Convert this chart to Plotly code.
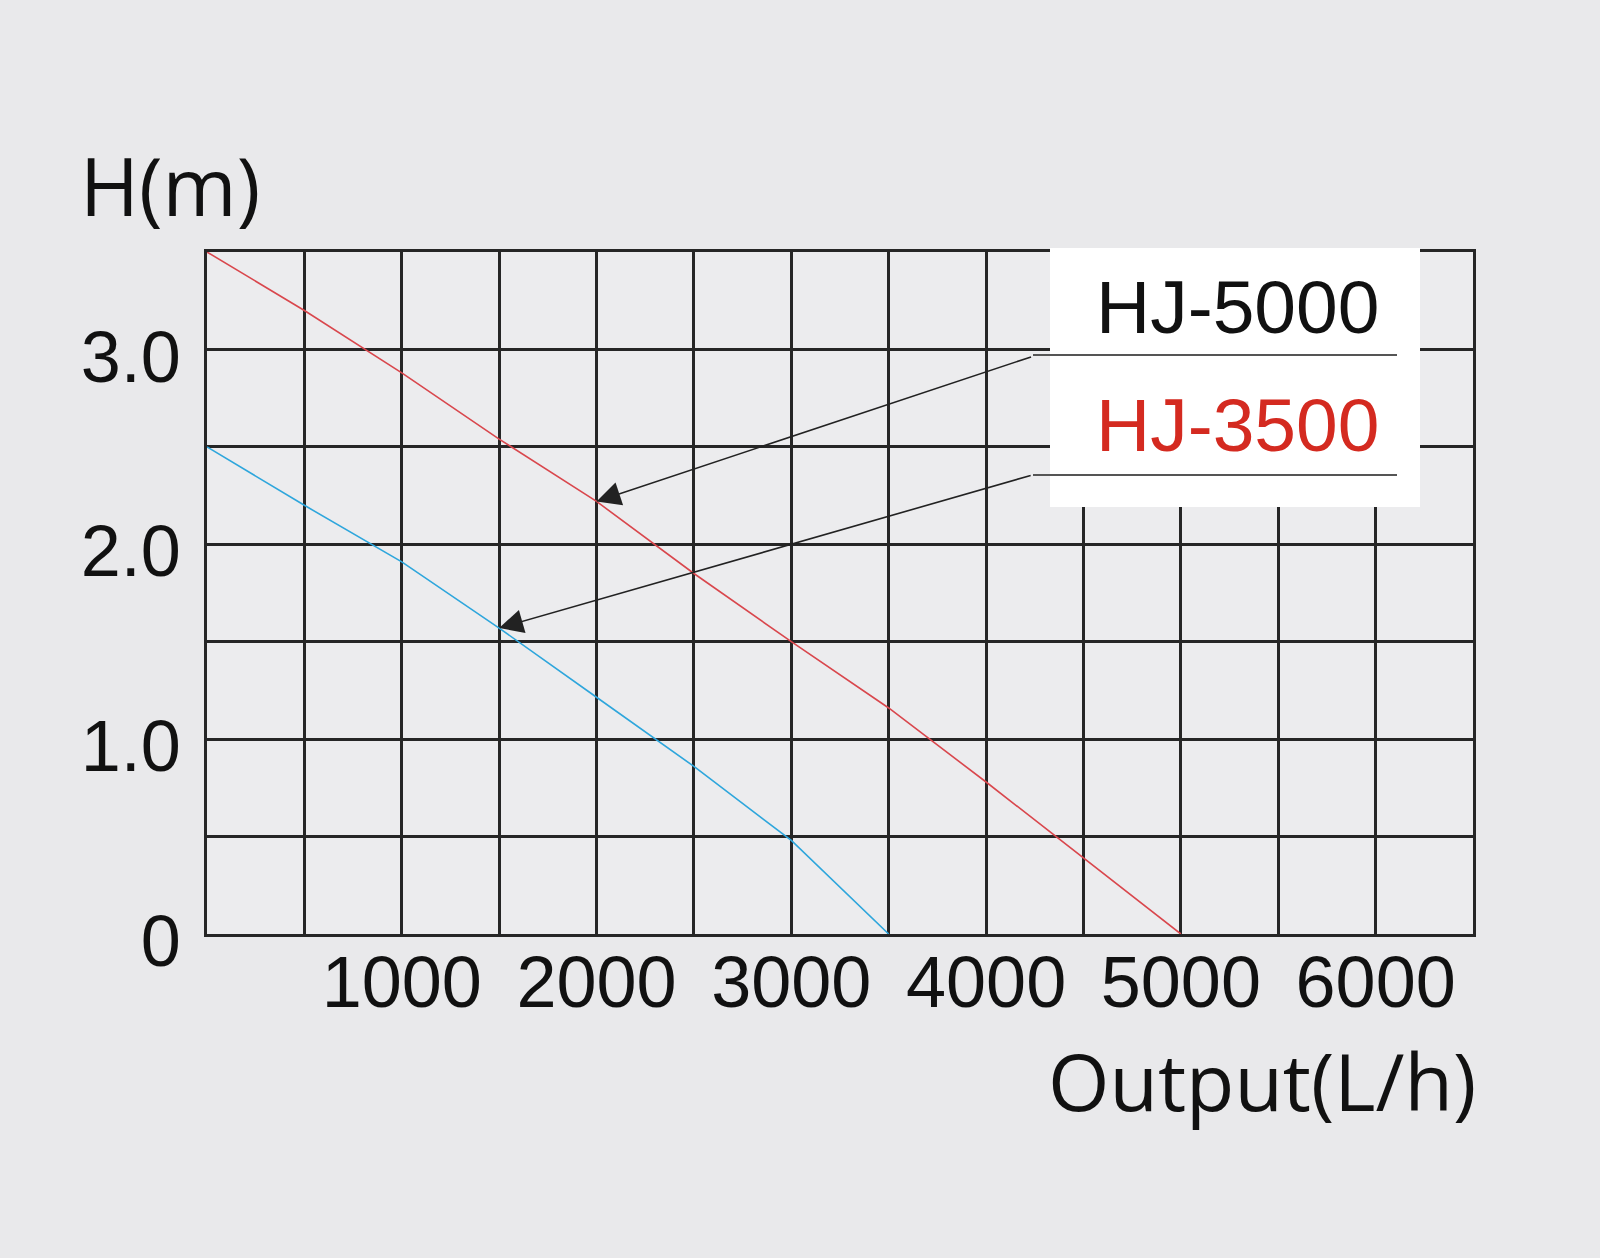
import plotly.graph_objects as go

# ---- data ----
flow_hj5000 = [0, 500, 1000, 1500, 2000, 2500, 3000, 3500, 4000, 4500, 5000]
head_hj5000 = [3.5, 3.2, 2.88, 2.54, 2.22, 1.85, 1.5, 1.16, 0.78, 0.39, 0.0]
flow_hj3500 = [0, 500, 1000, 1500, 2000, 2500, 3000, 3500]
head_hj3500 = [2.5, 2.2, 1.91, 1.57, 1.215, 0.86, 0.48, 0.0]

x_grid = [0, 500, 1000, 1500, 2000, 2500, 3000, 3500, 4000, 4500, 5000, 5500, 6000, 6500]
x_labels = ["", "", "1000", "", "2000", "", "3000", "", "4000", "", "5000", "", "6000", ""]
y_grid = [0, 0.5, 1.0, 1.5, 2.0, 2.5, 3.0, 3.5]
y_labels = ["0", "", "1.0", "", "2.0", "", "3.0", ""]

W, H = 1600, 1258
L, R, T, B = 207, 127, 252, 324
PW, PH = W - L - R, H - T - B
FONT = "Liberation Sans, Arial, sans-serif"
FONT2 = "Open Sans, Liberation Sans, sans-serif"


def px(xp):
    return (xp - L) / PW


def py(yp):
    return 1 - (yp - T) / PH


fig = go.Figure()
fig.add_trace(go.Scatter(x=flow_hj5000, y=head_hj5000, mode="lines",
                         line=dict(color="#d9474d", width=1.6), name="HJ-5000",
                         showlegend=False))
fig.add_trace(go.Scatter(x=flow_hj3500, y=head_hj3500, mode="lines",
                         line=dict(color="#2ea6dc", width=1.6), name="HJ-3500",
                         showlegend=False))

axis_common = dict(showgrid=True, gridcolor="#262626", gridwidth=2.5,
                   zeroline=False, showline=True, linecolor="#262626",
                   linewidth=2.5, mirror=True, ticks="",
                   tickfont=dict(family=FONT, size=72, color="#111111"))

fig.update_xaxes(range=[0, 6500], tickmode="array", tickvals=x_grid,
                 ticktext=x_labels, ticklabelstandoff=-16, **axis_common)
fig.update_yaxes(range=[0, 3.5], tickmode="array", tickvals=y_grid,
                 ticktext=y_labels, ticklabelstandoff=9, ticklabelshift=7,
                 **axis_common)

shapes = [
    # legend white box
    dict(type="rect", xref="paper", yref="paper",
         x0=px(1050), x1=px(1420), y0=py(507), y1=py(248),
         fillcolor="white", line=dict(width=0), layer="above"),
    dict(type="line", xref="paper", yref="paper",
         x0=px(1033), x1=px(1397), y0=py(355), y1=py(355),
         line=dict(color="#555555", width=2), layer="above"),
    dict(type="line", xref="paper", yref="paper",
         x0=px(1033), x1=px(1397), y0=py(475), y1=py(475),
         line=dict(color="#555555", width=2), layer="above"),
]

annotations = [
    dict(text="H(m)", xref="paper", yref="paper", x=px(78), y=py(184),
         xanchor="left", yanchor="middle", showarrow=False,
         font=dict(family=FONT2, size=80, color="#111111")),
    dict(text="Output(L/h)", xref="paper", yref="paper", x=px(1478), y=py(1080),
         xanchor="right", yanchor="middle", showarrow=False,
         font=dict(family=FONT2, size=79, color="#111111")),
    dict(text="HJ-5000", xref="paper", yref="paper", x=px(1237), y=py(307),
         xanchor="center", yanchor="middle", showarrow=False,
         font=dict(family=FONT, size=75, color="#111111")),
    dict(text="HJ-3500", xref="paper", yref="paper", x=px(1237), y=py(425),
         xanchor="center", yanchor="middle", showarrow=False,
         font=dict(family=FONT, size=75, color="#d42a20")),
    # arrows pointing to the curves
    dict(x=flow_hj5000[4], y=head_hj5000[4], xref="x", yref="y", text="",
         showarrow=True, ax=1033 - 597, ay=355 - 500, arrowhead=2,
         arrowsize=3, arrowwidth=1.6, arrowcolor="#222222", standoff=0),
    dict(x=flow_hj3500[3], y=head_hj3500[3], xref="x", yref="y", text="",
         showarrow=True, ax=1033 - 500, ay=475 - 628, arrowhead=2,
         arrowsize=3, arrowwidth=1.6, arrowcolor="#222222", standoff=0),
]

fig.update_layout(width=W, height=H, margin=dict(l=L, r=R, t=T, b=B),
                  paper_bgcolor="#e9e9eb", plot_bgcolor="#ececee",
                  shapes=shapes, annotations=annotations, showlegend=False)

fig.write_html("out.html", config={"displayModeBar": False},
               post_script="document.body.style.margin='0';document.body.style.overflow='hidden';")
